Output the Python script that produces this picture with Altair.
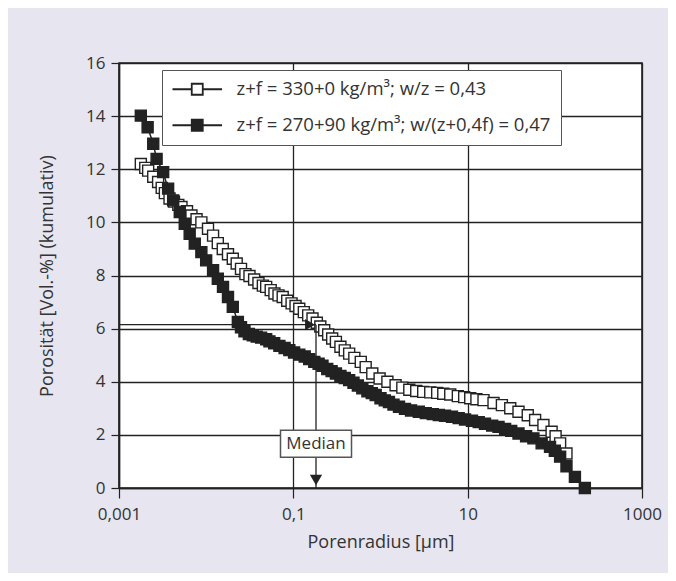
import altair as alt
import pandas as pd

SERIES = ["z+f = 330+0 kg/m³; w/z = 0,43", "z+f = 270+90 kg/m³; w/(z+0,4f) = 0,47"]

open_radius = [0.00178, 0.00200, 0.00216, 0.00247, 0.00281, 0.00309, 0.00336, 0.00380, 0.00427, 0.00479,
               0.00521, 0.00603, 0.00678, 0.00776, 0.00881, 0.0105, 0.0120, 0.0136, 0.0155, 0.0178,
               0.0202, 0.0224, 0.0251, 0.0282, 0.0314, 0.0355, 0.0398, 0.0447, 0.0488, 0.0550,
               0.0607, 0.0676, 0.0755, 0.0851, 0.0955, 0.106, 0.117, 0.132, 0.148, 0.166,
               0.186, 0.204, 0.226, 0.251, 0.279, 0.308, 0.347, 0.389, 0.437, 0.501,
               0.594, 0.676, 0.805, 0.977, 1.20, 1.49, 1.78, 2.14, 2.57, 3.09,
               3.72, 4.47, 5.25, 6.31, 7.71, 9.12, 10.7, 12.6, 15.2, 19.8,
               24.7, 30.8, 38.3, 48.9, 59.4, 74.0, 91.8, 102, 115, 136]
open_porosity = [12.20, 12.05, 11.95, 11.72, 11.52, 11.30, 11.10, 10.90, 10.78, 10.66,
                 10.58, 10.42, 10.26, 10.12, 10.00, 9.76, 9.50, 9.22, 9.00, 8.80,
                 8.63, 8.45, 8.25, 8.05, 7.98, 7.85, 7.72, 7.62, 7.57, 7.45,
                 7.32, 7.25, 7.19, 7.05, 6.95, 6.85, 6.75, 6.62, 6.50, 6.38,
                 6.22, 6.08, 5.94, 5.78, 5.63, 5.50, 5.32, 5.18, 5.06, 4.90,
                 4.75, 4.55, 4.31, 4.12, 4.00, 3.87, 3.78, 3.70, 3.65, 3.62,
                 3.60, 3.58, 3.55, 3.52, 3.46, 3.42, 3.38, 3.34, 3.31, 3.20,
                 3.12, 3.00, 2.87, 2.74, 2.56, 2.37, 2.12, 1.95, 1.68, 1.30]

filled_radius = [0.00178, 0.00213, 0.00247, 0.00270, 0.00321, 0.00366, 0.00418, 0.00498, 0.00568, 0.00647,
                 0.00740, 0.00881, 0.0100, 0.0120, 0.0136, 0.0156, 0.0178, 0.0202, 0.0231, 0.0251,
                 0.0275, 0.0309, 0.0343, 0.0380, 0.0427, 0.0488, 0.0532, 0.0603, 0.0692, 0.0794,
                 0.0900, 0.102, 0.117, 0.135, 0.152, 0.174, 0.195, 0.216, 0.245, 0.275,
                 0.308, 0.347, 0.389, 0.437, 0.490, 0.550, 0.619, 0.708, 0.794, 0.881,
                 1.00, 1.12, 1.25, 1.41, 1.63, 1.91, 2.24, 2.75, 3.31, 3.98,
                 4.67, 5.50, 6.61, 7.89, 9.33, 11.2, 13.4, 15.8, 19.1, 22.6,
                 26.9, 31.6, 38.3, 46.8, 56.8, 70.6, 88.1, 100, 115, 136,
                 170, 221]
filled_porosity = [14.02, 13.58, 12.96, 12.39, 11.89, 11.27, 10.83, 10.39, 9.95, 9.57,
                   9.20, 8.88, 8.57, 8.20, 7.88, 7.57, 7.19, 6.82, 6.25, 6.05,
                   5.90, 5.80, 5.75, 5.70, 5.66, 5.60, 5.52, 5.45, 5.35, 5.27,
                   5.19, 5.10, 5.02, 4.95, 4.85, 4.75, 4.68, 4.60, 4.48, 4.40,
                   4.31, 4.22, 4.14, 4.06, 3.96, 3.86, 3.75, 3.64, 3.57, 3.50,
                   3.38, 3.30, 3.24, 3.14, 3.06, 2.98, 2.92, 2.87, 2.82, 2.78,
                   2.75, 2.72, 2.68, 2.63, 2.58, 2.53, 2.48, 2.42, 2.35, 2.30,
                   2.22, 2.15, 2.05, 1.95, 1.87, 1.68, 1.55, 1.40, 1.18, 0.82,
                   0.42, 0.00]

x_ticks = [0.001, 0.1, 10, 1000]
y_ticks = [0, 2, 4, 6, 8, 10, 12, 14, 16]

median_radius = 0.182
median_porosity = 6.15
median_label_porosity = 1.67
median_label = "Median"

FONT = "Open Sans"
INK = "#222222"
TEXT = "#333333"

rows = []
for s, rs, ps in [(SERIES[0], open_radius, open_porosity), (SERIES[1], filled_radius, filled_porosity)]:
    for i, (r, p) in enumerate(zip(rs, ps)):
        rows.append({"r": r, "p": p, "s": s, "i": i})
df = pd.DataFrame(rows)

xscale = alt.Scale(type="log", domain=[0.001, 1000], nice=False)
yscale = alt.Scale(domain=[0, 16], nice=False)

x_axis = alt.Axis(values=x_ticks, labelExpr="replace(toString(datum.value), '.', ',')",
                  title="Porenradius [µm]", grid=True, tickSize=10, labelPadding=8,
                  titlePadding=11, labelFlush=False)
y_axis = alt.Axis(values=y_ticks, title="Porosität [Vol.-%] (kumulativ)", grid=True,
                  tickSize=8, labelPadding=6, titlePadding=29)


def X(field):
    return alt.X(field, type="quantitative", scale=xscale, axis=x_axis)


def Y(field):
    return alt.Y(field, type="quantitative", scale=yscale, axis=y_axis)


legend = alt.Legend(
    orient="none", legendX=43, legendY=7, title=None,
    symbolType="M-4.5,0H-1M1,0H4.5M-1,-1H1V1H-1Z", symbolSize=121,
    symbolStrokeColor=INK, symbolStrokeWidth=1.8,
    labelFont=FONT, labelFontSize=18.5, labelColor=TEXT, labelLimit=400,
    fillColor="white", strokeColor="#555555", padding=10,
    rowPadding=17, symbolOffset=16, labelOffset=30,
)

lines = alt.Chart(df).mark_line(color=INK, strokeWidth=1.5).encode(
    x=X("r"), y=Y("p"), detail="s:N", order="i:Q",
)

points = alt.Chart(df).mark_point(shape="square", size=121, filled=True, stroke=INK,
                                  strokeWidth=1.4, opacity=1).encode(
    x=X("r"), y=Y("p"),
    fill=alt.Fill("s:N", scale=alt.Scale(domain=SERIES, range=["white", INK]), legend=legend),
)

med = pd.DataFrame({"r": [median_radius], "p": [median_porosity], "r0": [x_ticks[0]],
                    "p0": [y_ticks[0]], "pl": [median_label_porosity], "t": [median_label]})

h_rule = alt.Chart(med).mark_rule(color=INK, strokeWidth=1.3).encode(
    x=X("r0"), x2="r:Q", y=Y("p"))
v_rule = alt.Chart(med).mark_rule(color=INK, strokeWidth=1.3).encode(
    x=X("r"), y=Y("p"), y2="p0:Q")
h_head = alt.Chart(med).mark_point(shape="triangle-right", size=130, filled=True, color=INK,
                                   opacity=1, xOffset=-6).encode(x=X("r"), y=Y("p"))
v_head = alt.Chart(med).mark_point(shape="triangle-down", size=150, filled=True, color=INK,
                                   opacity=1, yOffset=-8).encode(x=X("r"), y=Y("p0"))
box = alt.Chart(med).mark_point(shape="M-1,-0.38H1V0.38H-1Z", size=5041, filled=True,
                                fill="white", stroke="#555555", strokeWidth=1.5, opacity=1).encode(
    x=X("r"), y=Y("pl"))
box_text = alt.Chart(med).mark_text(font=FONT, fontSize=17, color=TEXT).encode(
    x=X("r"), y=Y("pl"), text="t:N")

chart = alt.layer(lines, points, h_rule, v_rule, h_head, v_head, box, box_text).properties(
    width=523, height=425,
    autosize=alt.AutoSizeParams(type="none"),
    padding={"left": 111, "top": 55, "right": 26, "bottom": 85},
).configure(background="#e6e5f0").configure_view(
    fill="white", stroke=INK, strokeWidth=1.6
).configure_axis(
    labelFont=FONT, labelFontSize=17, labelColor=TEXT,
    titleFont=FONT, titleFontSize=18, titleColor=TEXT, titleFontWeight="normal",
    gridColor="#222222", gridWidth=1.3, gridOpacity=1,
    domainColor=INK, domainWidth=1.5, tickColor=INK, tickWidth=1.2,
)

chart.save("out.html", embed_options={"renderer": "svg", "actions": False})
